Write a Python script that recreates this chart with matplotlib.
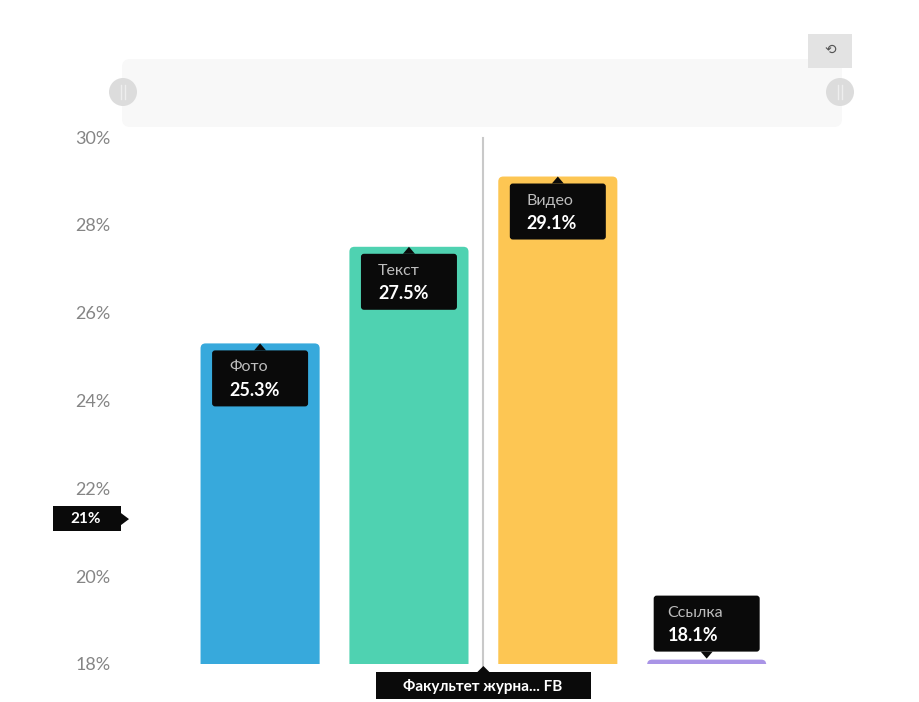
import matplotlib
matplotlib.use("Agg")
import matplotlib.pyplot as plt
from matplotlib.patches import FancyBboxPatch, Polygon, Circle, Rectangle

plt.rcParams["font.family"] = ["Lato", "DejaVu Sans"]

# данные
categories = ["Фото", "Текст", "Видео", "Ссылка"]
values = [25.3, 27.5, 29.1, 18.1]
colors = ["#37a9dc", "#4fd2b1", "#fdc653", "#a994e6"]
yticks = [18, 20, 22, 24, 26, 28, 30]
cursor_value = 21.3          # положение курсора по оси Y
hover_label = "Факультет журна... FB"

W, H = 919, 702
fig = plt.figure(figsize=(W / 100, H / 100), dpi=100)
fig.patch.set_facecolor("white")

# оси в пикселях: 30% на y=137, 18% на y=664
x0, x1 = 141, 796
y_top, y_bot = 137, 664
ax = fig.add_axes([x0 / W, 1 - y_bot / H, (x1 - x0) / W, (y_bot - y_top) / H])
ax.set_xlim(-0.8, 3.6)
ax.set_ylim(18, 30)
bars = ax.bar(range(len(values)), values, width=0.8, color=colors, zorder=2)
ax.set_yticks(yticks)
ax.set_yticklabels([f"{t}%" for t in yticks], color="#858585", fontsize=13)
ax.tick_params(axis="y", length=0, pad=22)
ax.set_xticks([])
for s in ax.spines.values():
    s.set_visible(False)


def px(x, y):
    return ax.transData.transform((x, y))


def add(p):
    p.set_transform(None)
    fig.add_artist(p)
    return p


# скруглённые верхушки столбцов: заменяем прямоугольники на FancyBboxPatch
for b in bars:
    (l, btm), (r, top) = b.get_window_extent().get_points()
    b.set_visible(False)
    rb = add(FancyBboxPatch((l, btm - 20), r - l, top - btm + 20,
                            boxstyle="round,pad=0,rounding_size=5",
                            fc=b.get_facecolor(), ec="none", zorder=2))
    rb.set_clip_path(ax.patch)

# вертикальная линия курсора между Текст и Видео
cx = (px(1, 0)[0] + px(2, 0)[0]) / 2
fig.add_artist(plt.Line2D([cx, cx], [H - 138, H - 668], transform=None,
                          color="#c9c9c9", lw=1.5, zorder=1))

# подсказки над столбцами
for i, (cat, v) in enumerate(zip(categories, values)):
    bx, by = px(i, v)
    bw = 106 if len(cat) > 5 else 96
    bh = 56
    if v > 20:
        top = by - 7
        tri = [(bx - 6, top), (bx + 6, top), (bx, top + 7)]
        y_box = top - bh
    else:
        y_box = by + 8
        tri = [(bx - 6, y_box), (bx + 6, y_box), (bx, y_box - 7)]
    add(FancyBboxPatch((bx - bw / 2, y_box), bw, bh,
                       boxstyle="round,pad=0,rounding_size=3",
                       fc="#0a0a0a", ec="none", zorder=5))
    add(Polygon(tri, closed=True, fc="#0a0a0a", ec="none", zorder=5))
    tx = bx - bw / 2 + (17 if bw < 100 else 14)
    fig.text(tx, y_box + bh - 17, cat, transform=None, color="#bdbdbd",
             fontsize=11.5, ha="left", va="center", zorder=6)
    fig.text(tx, y_box + bh - 40, f"{v}%", transform=None, color="white",
             fontsize=13, fontweight="bold", ha="left", va="center", zorder=6)

# метка курсора по оси Y
_, cy = px(0, cursor_value)
add(Rectangle((53, cy - 12), 68, 25, fc="#0a0a0a", ec="none", zorder=5))
add(Polygon([(121, cy - 6), (121, cy + 6), (129, cy)], closed=True,
            fc="#0a0a0a", ec="none", zorder=5))
fig.text(86, cy, f"{round(cursor_value)}%", transform=None, color="white",
         fontsize=11, fontweight="bold", ha="center", va="center", zorder=6)

# метка курсора по оси X
add(Rectangle((376, 3), 215, 27, fc="#0a0a0a", ec="none", zorder=5))
add(Polygon([(cx - 6, 30), (cx + 6, 30), (cx, 36)], closed=True,
            fc="#0a0a0a", ec="none", zorder=5))
fig.text(483, 16, hover_label, transform=None, color="white", fontsize=11,
         fontweight="bold", ha="center", va="center", zorder=6)

# полоса масштабирования сверху
add(FancyBboxPatch((122, H - 127), 720, 68, boxstyle="round,pad=0,rounding_size=8",
                   fc="#f8f8f8", ec="none", zorder=1))
for hx in (123, 840):
    add(Circle((hx, H - 92), 14, fc="#dcdcdc", ec="none", zorder=2))
    for d in (-2, 2):
        fig.add_artist(plt.Line2D([hx + d, hx + d], [H - 99, H - 85], transform=None,
                                  color="#eeeeee", lw=1, zorder=3))
add(Rectangle((808, H - 68), 44, 34, fc="#e3e3e3", ec="none", zorder=2))
fig.text(830, H - 50, "⟲", transform=None, color="#555555", fontsize=10,
         ha="center", va="center", family=["DejaVu Sans"], zorder=3)

fig.savefig("out.png", dpi=100)
